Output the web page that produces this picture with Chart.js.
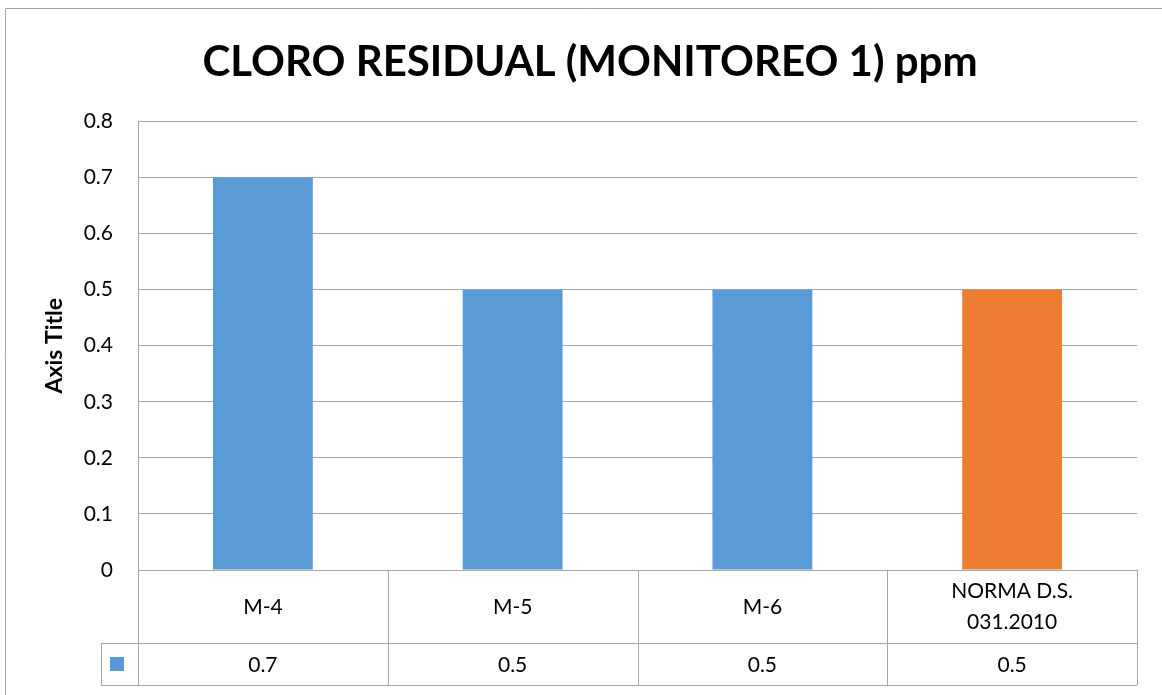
<!DOCTYPE html>
<html>
<head>
<meta charset="utf-8">
<script src="https://cdn.jsdelivr.net/npm/chart.js@4"></script>
<style>
  body { margin: 0; background: #fff; }
  #wrap { width: 1162px; height: 695px; }
</style>
</head>
<body>
<div id="wrap"><canvas id="c" width="1162" height="695"></canvas></div>
<script>
// values
const categories = ["M-4", "M-5", "M-6", ["NORMA D.S.", "031.2010"]];
const values = [0.7, 0.5, 0.5, 0.5];
const yTicks = [0, 0.1, 0.2, 0.3, 0.4, 0.5, 0.6, 0.7, 0.8];

const BLUE = "#5B9BD5";
const ORANGE = "#ED7D31";
const LINE = "#a6a6a6";
const FONT = "Lato, 'Open Sans', sans-serif";

// draws the outer frame and the data table under the x axis
const tablePlugin = {
  id: "dataTable",
  afterDraw(chart) {
    const ctx = chart.ctx;
    const x = chart.scales.x;
    const area = chart.chartArea;
    const half = (x.right - x.left) / categories.length / 2;
    const rowTop = area.bottom + 73;
    const rowBottom = rowTop + 42;
    const keyLeft = x.left - 37;

    ctx.save();
    ctx.strokeStyle = LINE;
    ctx.lineWidth = 1;

    // outer frame (cropped on right / bottom)
    ctx.beginPath();
    ctx.moveTo(5.5, chart.height + 2);
    ctx.lineTo(5.5, 8.5);
    ctx.lineTo(chart.width + 2, 8.5);
    ctx.stroke();

    ctx.beginPath();
    // vertical table lines at category boundaries
    for (let i = 0; i <= categories.length; i++) {
      const px = Math.round(i < categories.length ? x.getPixelForValue(i) - half : x.getPixelForValue(i - 1) + half) + 0.5;
      ctx.moveTo(px, area.bottom);
      ctx.lineTo(px, rowBottom);
    }
    ctx.moveTo(keyLeft + 0.5, rowTop);
    ctx.lineTo(keyLeft + 0.5, rowBottom);
    ctx.moveTo(keyLeft, rowTop + 0.5);
    ctx.lineTo(x.right, rowTop + 0.5);
    ctx.moveTo(keyLeft, rowBottom + 0.5);
    ctx.lineTo(x.right, rowBottom + 0.5);
    ctx.stroke();

    // legend key
    ctx.fillStyle = BLUE;
    ctx.fillRect(keyLeft + 9, rowTop + 14, 14, 14);

    // values row
    const ds = chart.data.datasets[0];
    ctx.fillStyle = "#000";
    ctx.font = "21px " + FONT;
    ctx.textAlign = "center";
    ctx.textBaseline = "middle";
    ds.data.forEach((v, i) => {
      ctx.fillText(String(v), x.getPixelForValue(i), (rowTop + rowBottom) / 2 + 1);
    });
    ctx.restore();
  }
};

new Chart(document.getElementById("c"), {
  type: "bar",
  data: {
    labels: categories,
    datasets: [{
      data: values,
      backgroundColor: [BLUE, BLUE, BLUE, ORANGE],
      borderWidth: 0,
      categoryPercentage: 0.4,
      barPercentage: 1.0,
    }],
  },
  options: {
    responsive: false,
    animation: false,
    layout: { padding: { left: 43, right: 25, top: 0, bottom: 52 } },
    plugins: {
      legend: { display: false },
      tooltip: { enabled: false },
      title: {
        display: true,
        text: "CLORO RESIDUAL (MONITOREO 1) ppm",
        color: "#000",
        font: { family: FONT, size: 42, weight: "bold", lineHeight: 1.2 },
        padding: { top: 37, bottom: 34 },
      },
    },
    scales: {
      x: {
        grid: { display: false, drawTicks: false },
        border: { display: false },
        ticks: {
          color: "#000",
          font: { family: FONT, size: 21, lineHeight: 1.5 },
          padding: 21,
          crossAlign: "center",
          maxRotation: 0,
          autoSkip: false,
        },
        afterFit(scale) { scale.height = 73; },
      },
      y: {
        min: 0,
        max: 0.8,
        afterBuildTicks(scale) { scale.ticks = yTicks.map(v => ({ value: v })); },
        grid: { color: LINE, drawTicks: false },
        border: { display: true, color: LINE },
        ticks: {
          color: "#000",
          font: { family: FONT, size: 21 },
          padding: 25,
          callback: v => String(+v.toFixed(1)),
        },
        title: {
          display: true,
          text: "Axis Title",
          color: "#000",
          font: { family: FONT, size: 23, weight: "bold", lineHeight: 1.0 },
          padding: { top: 0, bottom: 0 },
        },
        afterFit(scale) { scale.width = 95; },
      },
    },
  },
  plugins: [tablePlugin],
});
</script>
</body>
</html>
